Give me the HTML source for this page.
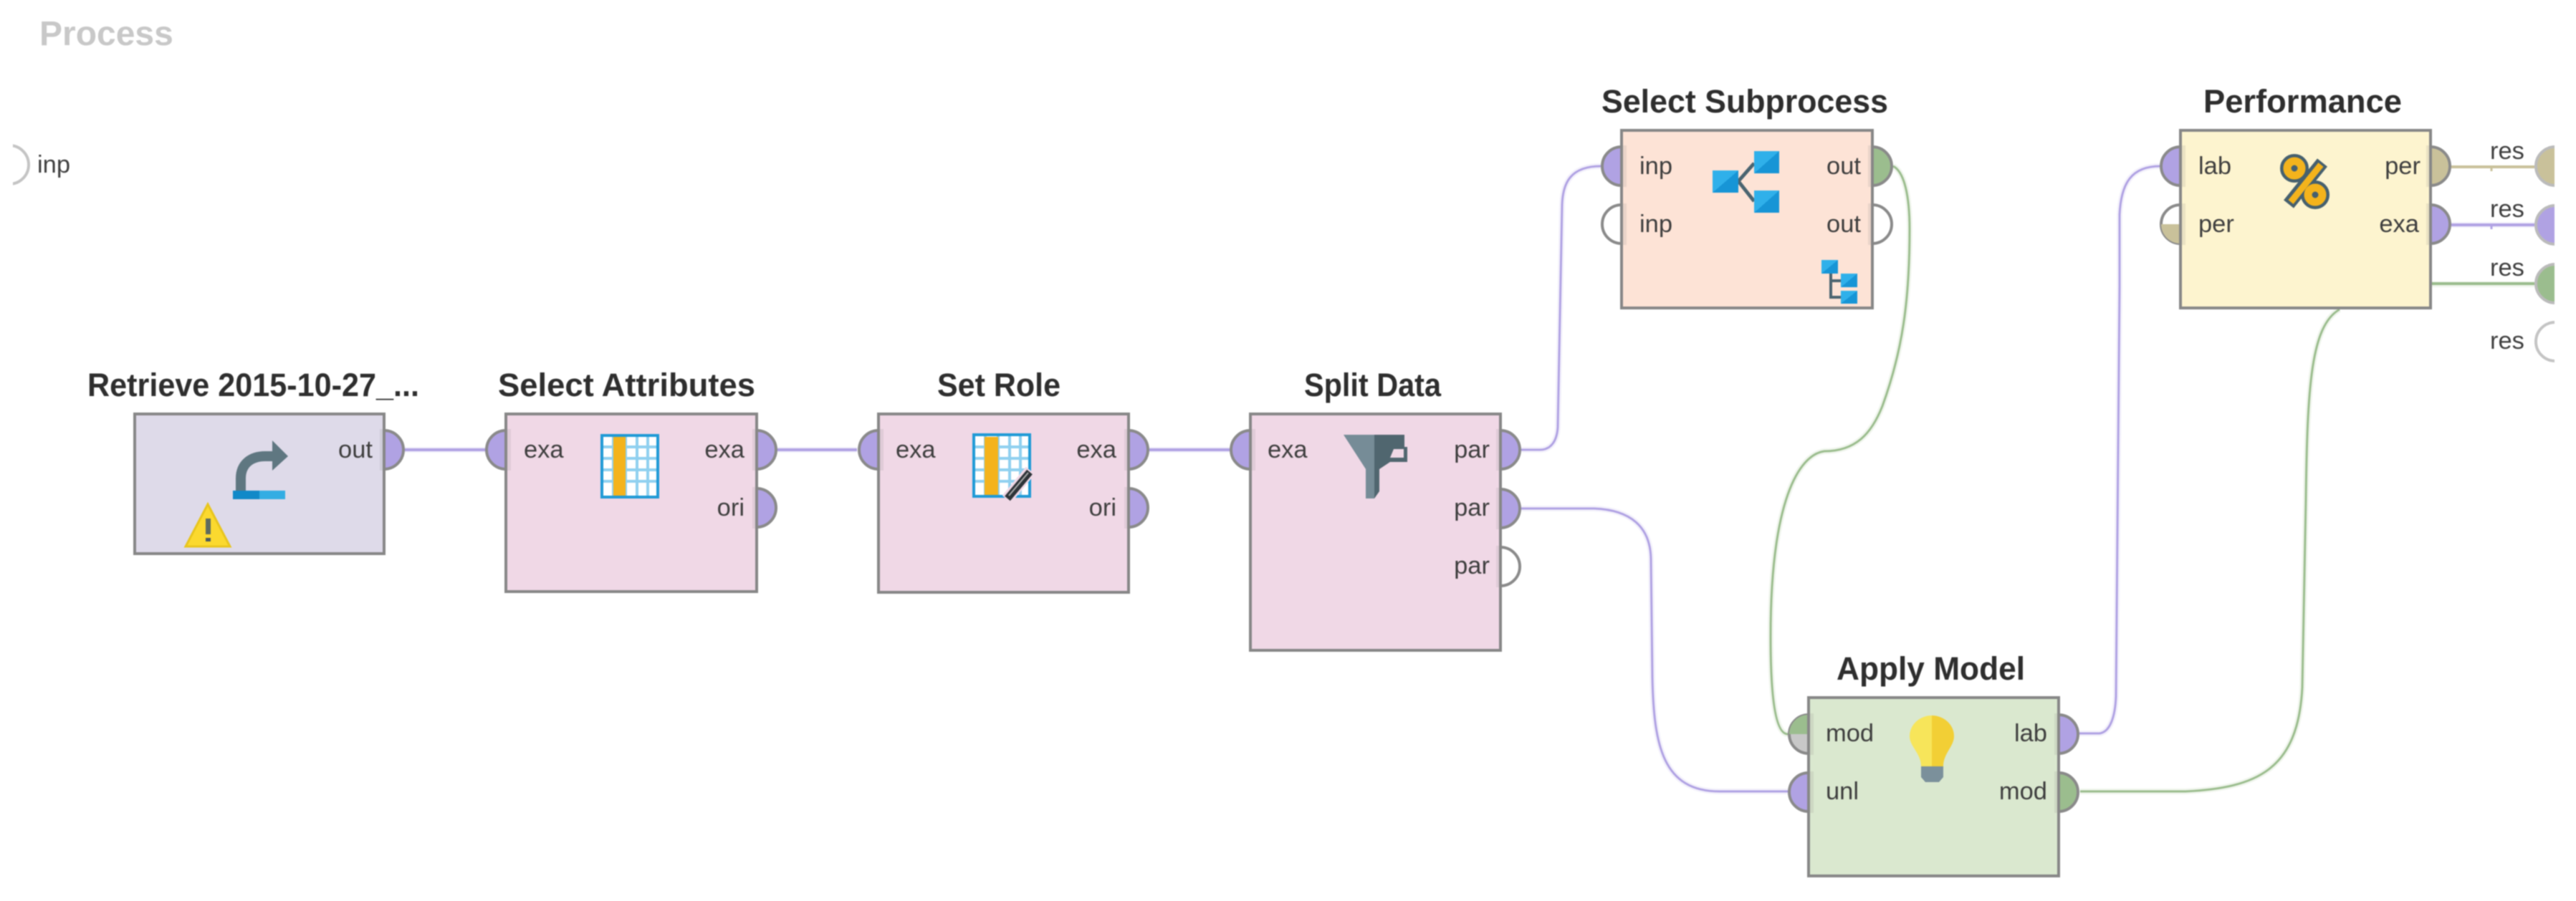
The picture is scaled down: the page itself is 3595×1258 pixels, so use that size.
<!DOCTYPE html>
<html><head><meta charset="utf-8"><title>Process</title>
<style>
html,body{margin:0;padding:0;background:#fff;width:3595px;height:1258px;overflow:hidden}
svg{display:block;filter:blur(0.9px)}
.t{font:bold 45px "Liberation Sans",sans-serif;fill:#2e2e2e}
.l{font:34.5px "Liberation Sans",sans-serif;fill:#3e3e3e}
.r{font:34.5px "Liberation Sans",sans-serif;fill:#3e3e3e;text-anchor:end}
.box{stroke:#878787;stroke-width:4}
.port{stroke:#8a8a8a;stroke-width:4}
.lp{fill:none;stroke:#b0a2e3;stroke-width:3}
.lg{fill:none;stroke:#9bbd8e;stroke-width:3}
.hp{fill:none;stroke:#f3f1fb;stroke-width:8}
.hg{fill:none;stroke:#f0f5ed;stroke-width:8}
.s{fill:#888;opacity:.16}
</style></head><body>
<svg width="3595" height="1258" viewBox="0 0 3595 1258" xmlns="http://www.w3.org/2000/svg">
<defs>
<path id="pr" d="M0 -27A27 27 0 0 1 0 27Z"/>
<path id="pl" d="M0 -27A27 27 0 0 0 0 27Z"/>
<linearGradient id="sq" x1="0" y1="0" x2="1" y2="1"><stop offset=".5" stop-color="#2fb0ea"/><stop offset=".5" stop-color="#1795d6"/></linearGradient>
</defs>
<rect width="3595" height="1258" fill="#fff"/>

<!-- connector halos -->
<g>
<path class="hp" d="M565 628H678M1085 628H1196M1604 628H1716"/>
<path class="hp" d="M2123 628H2149C2165 628 2173 615 2174 596L2180 286C2181 255 2192 232 2234 232"/>
<path class="hp" d="M2123 710H2225C2275 712 2303 735 2304 780L2306 946C2308 1040 2320 1105 2400 1105H2496"/>
<path class="hp" d="M2902 1024H2930C2945 1022 2952 1000 2953 972L2958 400V300C2960 255 2975 232 3015 232"/>
<path class="hp" d="M3421 314H3537"/>
<path class="hg" d="M2642 232C2658 240 2665 275 2665 320C2665 420 2655 490 2627 567C2612 605 2590 630 2546 630C2510 635 2471 700 2471 889C2471 975 2478 1025 2495 1025"/>
<path class="hg" d="M2903 1105H3050C3150 1100 3207 1075 3213 960L3218 698C3220 540 3225 455 3265 432"/>
<path class="hg" d="M3392 397H3537"/>
</g>
<!-- connectors -->
<g>
<path class="lp" style="stroke-width:4" d="M565 628H678M1085 628H1196M1604 628H1716"/>
<path class="lp" d="M2123 628H2149C2165 628 2173 615 2174 596L2180 286C2181 255 2192 232 2234 232"/>
<path class="lp" d="M2123 710H2225C2275 712 2303 735 2304 780L2306 946C2308 1040 2320 1105 2400 1105H2496"/>
<path class="lp" d="M2902 1024H2930C2945 1022 2952 1000 2953 972L2958 400V300C2960 255 2975 232 3015 232"/>
<path class="lg" d="M2642 232C2658 240 2665 275 2665 320C2665 420 2655 490 2627 567C2612 605 2590 630 2546 630C2510 635 2471 700 2471 889C2471 975 2478 1025 2495 1025"/>
<path class="lg" d="M2903 1105H3050C3150 1100 3207 1075 3213 960L3218 698C3220 540 3225 455 3265 432"/>
<path class="lg" style="stroke-width:4" d="M3392 396H3537"/>
<path d="M3421 233H3537" fill="none" stroke="#c9c19a" stroke-width="4"/>
<path class="lp" style="stroke-width:4" d="M3421 314H3537"/>
<path d="M3477 233v6" stroke="#c9c19a" stroke-width="3"/>
<path d="M3477 314v6" stroke="#b0a2e3" stroke-width="3"/>
</g>

<text x="55" y="63" style="font:bold 48px 'Liberation Sans',sans-serif;fill:#c8c8c8">Process</text>

<!-- process input port -->
<circle cx="13" cy="230" r="27" fill="#fff" stroke="#c4c4c4" stroke-width="4"/>
<rect x="0" y="190" width="18" height="80" fill="#fff"/>
<text class="l" x="52" y="241">inp</text>

<!-- Retrieve -->
<text class="t" x="122" y="553" textLength="463" lengthAdjust="spacingAndGlyphs">Retrieve 2015-10-27_...</text>
<use href="#pr" x="536" y="628" class="port" fill="#b0a2e3"/>
<rect class="box" x="188" y="578" width="348" height="195" fill="#dedae9"/>
<rect class="s" x="530" y="599" width="5" height="58"/>
<text class="r" x="520" y="639">out</text>
<path d="M336 686V668C336 648 350 637 370 637H384" fill="none" stroke="#5f7781" stroke-width="14"/>
<path d="M380 615L402 637L380 657Z" fill="#5f7781"/>
<rect x="325" y="685" width="37" height="12" fill="#1089c8"/><rect x="362" y="685" width="36" height="12" fill="#33ade3"/>
<path d="M290 704L321 763H259Z" fill="#fbd92f" stroke="#e8c51e" stroke-width="3"/>
<rect x="287" y="724" width="7" height="22" fill="#5d6b5f"/><rect x="287" y="751" width="7" height="5" fill="#4a5a5f"/>

<!-- Select Attributes -->
<text class="t" x="695" y="553" textLength="359" lengthAdjust="spacingAndGlyphs">Select Attributes</text>
<use href="#pl" x="706" y="628" class="port" fill="#b0a2e3"/>
<use href="#pr" x="1056" y="628" class="port" fill="#b0a2e3"/>
<use href="#pr" x="1056" y="709" class="port" fill="#b0a2e3"/>
<rect class="box" x="706" y="578" width="350" height="248" fill="#f0d8e6"/>
<rect class="s" x="708" y="599" width="5" height="58"/><rect class="s" x="1050" y="599" width="5" height="58"/><rect class="s" x="1050" y="680" width="5" height="58"/>
<text class="l" x="731" y="639">exa</text>
<text class="r" x="1039" y="639">exa</text>
<text class="r" x="1039" y="720">ori</text>
<g>
<rect x="840" y="608" width="78" height="86" fill="#fff"/>
<path d="M840 624H918M840 640H918M840 656H918M840 672H918M856 608V694M873 608V694M889 608V694M904 608V694" stroke="#8fd0ef" stroke-width="4"/>
<rect x="856" y="610" width="17" height="84" fill="#f4b31c"/>
<rect x="840" y="608" width="78" height="86" fill="none" stroke="#1f9ad6" stroke-width="4"/>
</g>

<!-- Set Role -->
<text class="t" x="1308" y="553" textLength="172" lengthAdjust="spacingAndGlyphs">Set Role</text>
<use href="#pl" x="1226" y="628" class="port" fill="#b0a2e3"/>
<use href="#pr" x="1575" y="628" class="port" fill="#b0a2e3"/>
<use href="#pr" x="1575" y="709" class="port" fill="#b0a2e3"/>
<rect class="box" x="1226" y="578" width="349" height="249" fill="#f0d8e6"/>
<rect class="s" x="1228" y="599" width="5" height="58"/><rect class="s" x="1569" y="599" width="5" height="58"/><rect class="s" x="1569" y="680" width="5" height="58"/>
<text class="l" x="1250" y="639">exa</text>
<text class="r" x="1558" y="639">exa</text>
<text class="r" x="1558" y="720">ori</text>
<g>
<rect x="1359" y="607" width="78" height="86" fill="#fff"/>
<path d="M1359 624H1437M1359 640H1437M1359 656H1437M1359 672H1437M1375 607V693M1393 607V693M1409 607V693M1424 607V693" stroke="#8fd0ef" stroke-width="4"/>
<rect x="1374" y="610" width="19" height="83" fill="#f4b31c"/>
<rect x="1359" y="607" width="78" height="86" fill="none" stroke="#1f9ad6" stroke-width="4"/>
<path d="M1405 697L1438 657" stroke="#f0d8e6" stroke-width="16"/>
<path d="M1406 696L1437 659" stroke="#2d3438" stroke-width="10"/>
<path d="M1408 692L1435 660" stroke="#aaa" stroke-width="2"/>
</g>

<!-- Split Data -->
<text class="t" x="1820" y="553" textLength="191" lengthAdjust="spacingAndGlyphs">Split Data</text>
<use href="#pl" x="1745" y="628" class="port" fill="#b0a2e3"/>
<use href="#pr" x="2094" y="628" class="port" fill="#b0a2e3"/>
<use href="#pr" x="2094" y="710" class="port" fill="#b0a2e3"/>
<use href="#pr" x="2094" y="791" class="port" fill="#fff"/>
<rect class="box" x="1745" y="578" width="349" height="330" fill="#f0d8e6"/>
<rect class="s" x="1747" y="599" width="5" height="58"/><rect class="s" x="2088" y="599" width="5" height="58"/><rect class="s" x="2088" y="681" width="5" height="58"/><rect class="s" x="2088" y="762" width="5" height="58"/>
<text class="l" x="1769" y="639">exa</text>
<text class="r" x="2079" y="639">par</text>
<text class="r" x="2079" y="720">par</text>
<text class="r" x="2079" y="801">par</text>
<g>
<path d="M1875 607H1918V696L1910 696L1906 696V655Z" fill="#768c97"/>
<path d="M1918 607H1960V624H1964V645H1940L1925 655V686L1918 696Z" fill="#50666f"/>
<path d="M1945 627H1959V639H1940Z" fill="#f0d8e6"/>
</g>

<!-- Select Subprocess -->
<text class="t" x="2235" y="157" textLength="400" lengthAdjust="spacingAndGlyphs">Select Subprocess</text>
<use href="#pl" x="2263" y="232" class="port" fill="#b0a2e3"/>
<use href="#pl" x="2263" y="313" class="port" fill="#fff"/>
<use href="#pr" x="2613" y="232" class="port" fill="#9bbd8e"/>
<use href="#pr" x="2613" y="313" class="port" fill="#fff"/>
<rect class="box" x="2263" y="182" width="350" height="248" fill="#fde3d6"/>
<rect class="s" x="2265" y="203" width="5" height="58"/><rect class="s" x="2265" y="284" width="5" height="58"/><rect class="s" x="2607" y="203" width="5" height="58"/><rect class="s" x="2607" y="284" width="5" height="58"/>
<text class="l" x="2288" y="243">inp</text>
<text class="l" x="2288" y="324">inp</text>
<text class="r" x="2597" y="243">out</text>
<text class="r" x="2597" y="324">out</text>
<path d="M2426 253L2448 228M2426 253L2448 281" stroke="#4a6470" stroke-width="5" fill="none"/>
<rect x="2390" y="238" width="36" height="31" fill="url(#sq)"/>
<rect x="2448" y="211" width="35" height="31" fill="url(#sq)"/>
<rect x="2448" y="266" width="35" height="31" fill="url(#sq)"/>
<path d="M2555 380V415H2569M2555 392H2569" stroke="#4a6470" stroke-width="4" fill="none"/>
<rect x="2542" y="363" width="23" height="19" fill="url(#sq)"/>
<rect x="2569" y="382" width="23" height="19" fill="url(#sq)"/>
<rect x="2569" y="406" width="23" height="18" fill="url(#sq)"/>

<!-- Performance -->
<text class="t" x="3075" y="157" textLength="277" lengthAdjust="spacingAndGlyphs">Performance</text>
<use href="#pl" x="3043" y="232" class="port" fill="#b0a2e3"/>
<use href="#pl" x="3043" y="313" class="port" fill="#fff"/>
<path d="M3043 313V340A27 27 0 0 1 3016 313Z" fill="#c9c19a"/>
<use href="#pr" x="3392" y="232" class="port" fill="#c9c19a"/>
<use href="#pr" x="3392" y="313" class="port" fill="#b0a2e3"/>
<rect class="box" x="3043" y="182" width="349" height="248" fill="#fdf4cf"/>
<rect class="s" x="3045" y="203" width="5" height="58"/><rect class="s" x="3045" y="284" width="5" height="58"/><rect class="s" x="3386" y="203" width="5" height="58"/><rect class="s" x="3386" y="284" width="5" height="58"/>
<text class="l" x="3068" y="243">lab</text>
<text class="l" x="3068" y="324">per</text>
<text class="r" x="3378" y="243">per</text>
<text class="r" x="3376" y="324">exa</text>
<g fill="none">
<path d="M3194 285L3241 227" stroke="#46606e" stroke-width="18"/>
<circle cx="3202" cy="235" r="14" stroke="#46606e" stroke-width="12" fill="#46606e"/>
<circle cx="3231" cy="272" r="14" stroke="#46606e" stroke-width="12" fill="#46606e"/>
<path d="M3197 282L3239 230" stroke="#f4b31c" stroke-width="9"/>
<circle cx="3202" cy="235" r="10" stroke="#f4b31c" stroke-width="11"/>
<circle cx="3231" cy="272" r="10" stroke="#f4b31c" stroke-width="11"/>
</g>

<!-- res ports -->
<circle cx="3566" cy="232" r="27" fill="#c9c19a" stroke="#bbb" stroke-width="4"/>
<circle cx="3566" cy="314" r="27" fill="#b0a2e3" stroke="#bbb" stroke-width="4"/>
<circle cx="3566" cy="396" r="27" fill="#9bbd8e" stroke="#bbb" stroke-width="4"/>
<circle cx="3566" cy="477" r="27" fill="#fff" stroke="#c4c4c4" stroke-width="4"/>
<rect x="3565" y="190" width="30" height="330" fill="#fff"/>
<text class="l" x="3475" y="222">res</text>
<text class="l" x="3475" y="303">res</text>
<text class="l" x="3475" y="385">res</text>
<text class="l" x="3475" y="487">res</text>

<!-- Apply Model -->
<text class="t" x="2563" y="949" textLength="263" lengthAdjust="spacingAndGlyphs">Apply Model</text>
<use href="#pl" x="2524" y="1025" class="port" fill="#c8c8c8"/>
<path d="M2524 1025V998A27 27 0 0 0 2497 1025Z" fill="#9bbd8e"/>
<use href="#pl" x="2524" y="1106" class="port" fill="#b0a2e3"/>
<use href="#pr" x="2873" y="1025" class="port" fill="#b0a2e3"/>
<use href="#pr" x="2873" y="1106" class="port" fill="#9bbd8e"/>
<rect class="box" x="2524" y="974" width="349" height="249" fill="#dae8cf"/>
<rect class="s" x="2526" y="996" width="5" height="58"/><rect class="s" x="2526" y="1077" width="5" height="58"/><rect class="s" x="2867" y="996" width="5" height="58"/><rect class="s" x="2867" y="1077" width="5" height="58"/>
<text class="l" x="2548" y="1035">mod</text>
<text class="l" x="2548" y="1116">unl</text>
<text class="r" x="2857" y="1035">lab</text>
<text class="r" x="2857" y="1116">mod</text>
<path d="M2696 999A31 29 0 0 0 2665 1028C2665 1042 2681 1052 2681 1070H2696Z" fill="#f7e55a"/>
<path d="M2696 999A31 29 0 0 1 2727 1028C2727 1042 2712 1052 2712 1070H2696Z" fill="#f2cf35"/>
<path d="M2681 1070H2712V1085L2706 1092H2687L2681 1085Z" fill="#7b909b"/>
</svg>
</body></html>
